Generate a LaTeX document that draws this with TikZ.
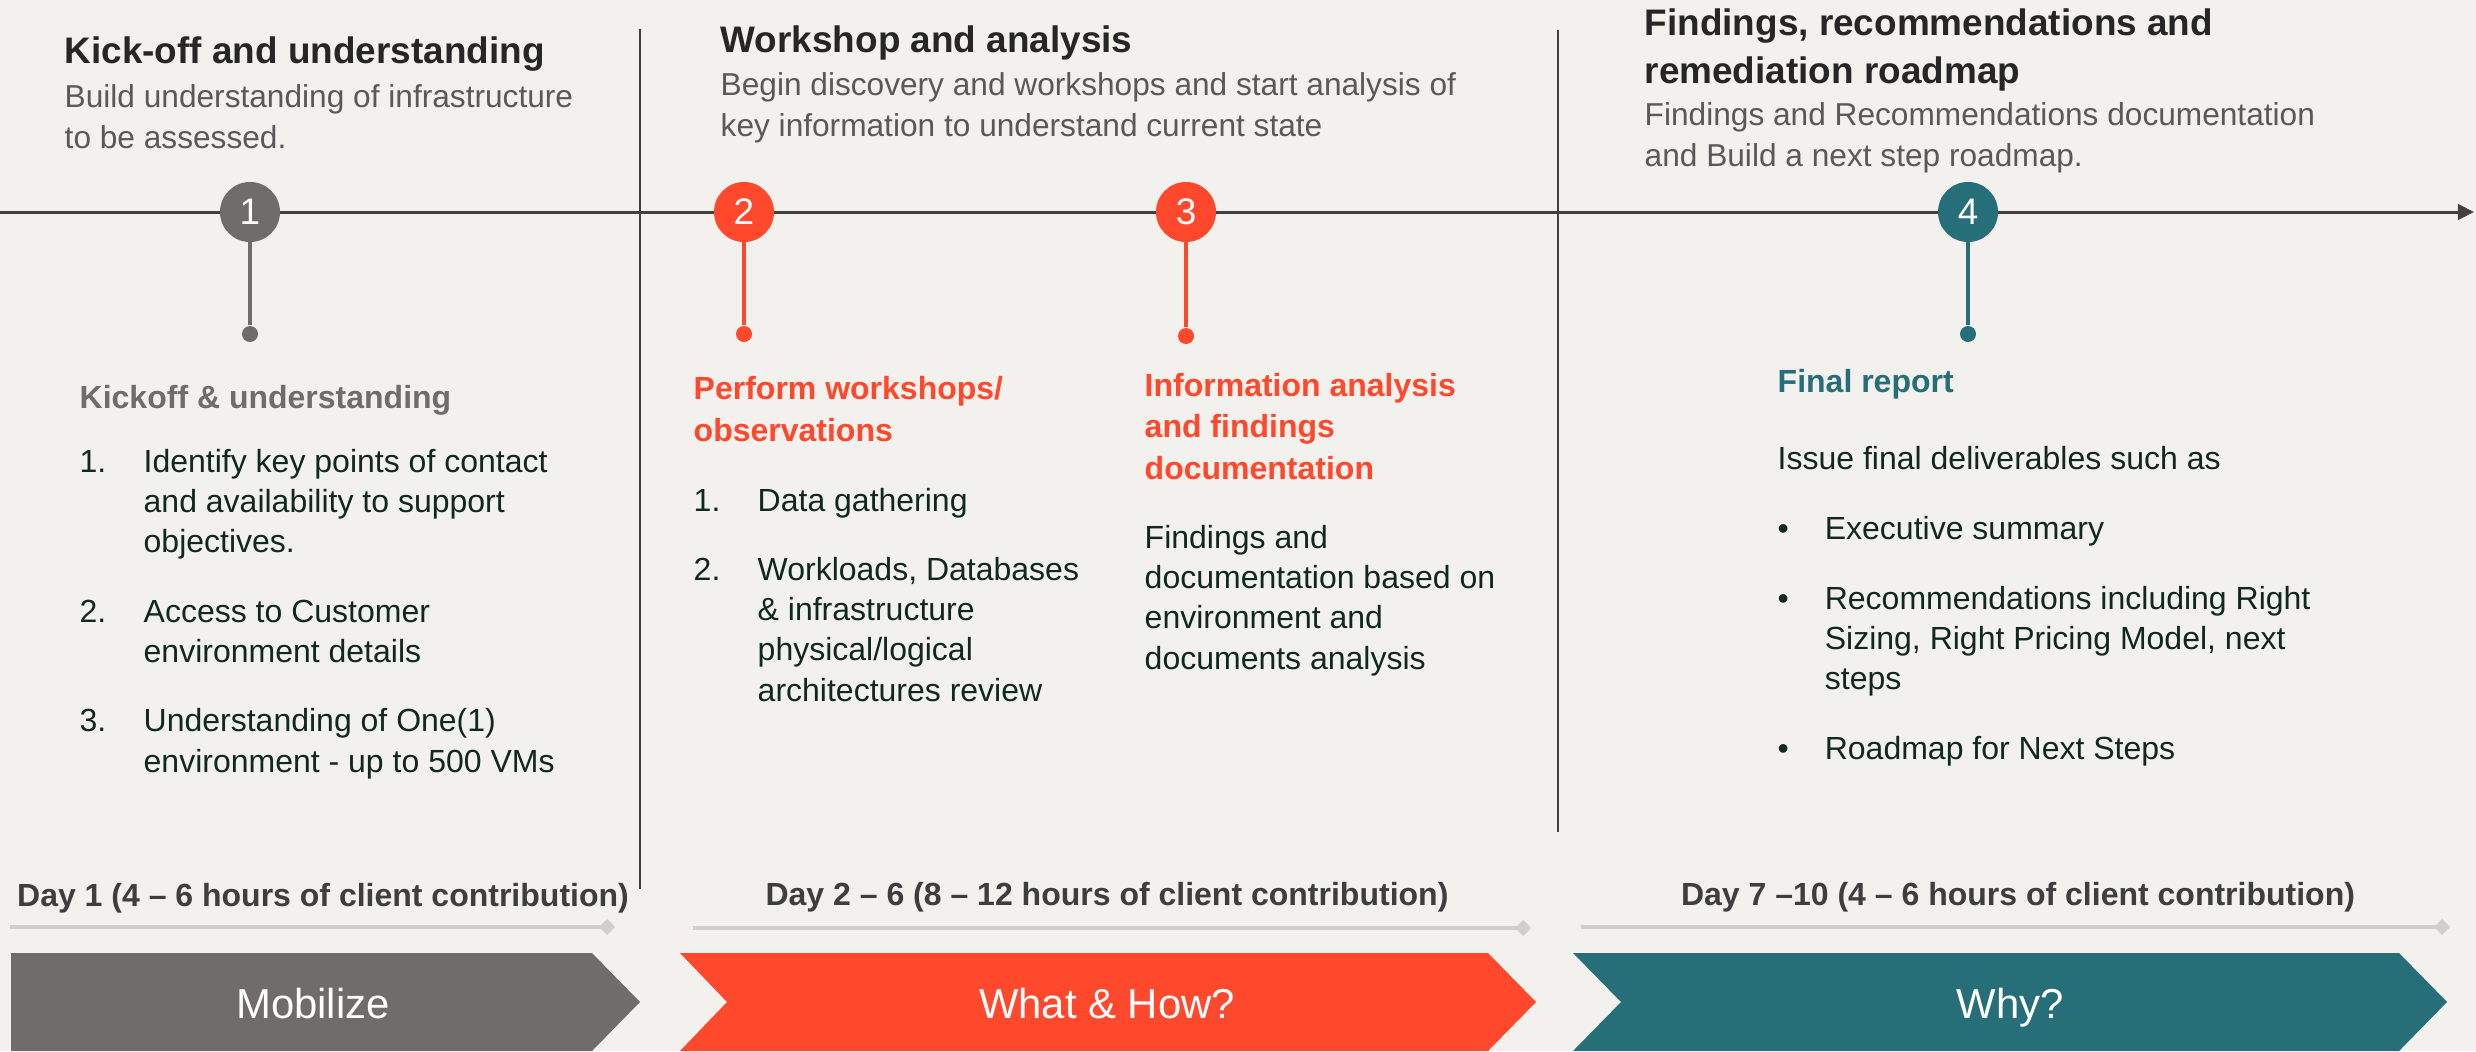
\documentclass[tikz,border=0pt]{standalone}
\usepackage{fontspec}
\setmainfont{Liberation Sans}
\usepackage{tikz}
\usetikzlibrary{arrows.meta, positioning}
\definecolor{bgcolor}{RGB}{242,241,238}
\definecolor{mobcolor}{RGB}{112,108,106}
\definecolor{howcolor}{RGB}{255,72,44}
\definecolor{whycolor}{RGB}{39,111,120}
\definecolor{linecolor}{RGB}{64,64,64}
\definecolor{titlecolor}{RGB}{38,38,38}
\definecolor{subcolor}{RGB}{89,89,89}
\definecolor{bodycolor}{RGB}{16,40,30}
\definecolor{daycolor}{RGB}{62,62,62}
\definecolor{trackcolor}{RGB}{208,206,206}

\newlength{\numind}
\setlength{\numind}{18.2pt}
\newlength{\bulind}
\setlength{\bulind}{13.4pt}
\newcommand{\numlbl}[1]{\makebox[\numind][l]{#1}}
\newcommand{\numskip}{\hspace*{\numind}}
\newcommand{\bullbl}{\makebox[\bulind][l]{\textbullet}}
\newcommand{\bulskip}{\hspace*{\bulind}}

\begin{document}
\begin{tikzpicture}[
    x=0.01cm, y=-0.01cm,
    title/.style={anchor=base west, inner sep=0pt, align=left, text=titlecolor, font=\fontsize{10.5}{13.4}\selectfont\bfseries},
    subtitle/.style={anchor=base west, inner sep=0pt, align=left, text=subcolor, font=\fontsize{9}{11.4}\selectfont},
    head/.style={anchor=base west, inner sep=0pt, align=left, font=\fontsize{9.1}{11.8}\selectfont\bfseries},
    body/.style={anchor=base west, inner sep=0pt, align=left, text=bodycolor, font=\fontsize{9.1}{11.4}\selectfont},
    milestone/.style={circle, fill=#1, minimum size=0.6cm, inner sep=0pt, text=white, font=\fontsize{10.5}{12}\selectfont},
    pin/.style={circle, fill=#1, minimum size=0.16cm, inner sep=0pt},
    stem/.style={draw=#1, line width=1pt},
    divider/.style={draw=linecolor, line width=0.65pt},
    track/.style={draw=trackcolor, line width=1.15pt, -{Diamond[length=4.5pt, width=4.6pt]}},
    day/.style={anchor=base, inner sep=0pt, text=daycolor, font=\fontsize{9.1}{11}\selectfont\bfseries},
    phase/.style={anchor=base, inner sep=0pt, text=white, font=\fontsize{11.9}{14}\selectfont}
]
    \fill[bgcolor] (0,0) rectangle (2476,1051);
    \useasboundingbox (0,0) rectangle (2476,1051);

    % timeline and dividers
    \coordinate (tl0) at (0,212);
    \coordinate (tl1) at (2474,212);
    \draw[linecolor, line width=0.85pt, -{Triangle[length=4.6pt, width=4.4pt]}] (tl0) -- (tl1);
    \coordinate (dv1a) at (640,29);
    \coordinate (dv1b) at (640,889);
    \coordinate (dv2a) at (1558,30);
    \coordinate (dv2b) at (1558,832);
    \draw[divider] (dv1a) -- (dv1b);
    \draw[divider] (dv2a) -- (dv2b);

    % section titles (multi-line nodes sit on their last line)
    \node[title] (t1) at (64,63) {Kick-off and understanding};
    \node[subtitle] (s1) at (64,148) {Build understanding of infrastructure\\to be assessed.};
    \node[title] (t2) at (720,52) {Workshop and analysis};
    \node[subtitle] (s2) at (720,136) {Begin discovery and workshops and start analysis of\\key information to understand current state};
    \node[title] (t3) at (1644,83) {Findings, recommendations and\\remediation roadmap};
    \node[subtitle] (s3) at (1644,166) {Findings and Recommendations documentation\\and Build a next step roadmap.};

    % milestones
    \node[pin=mobcolor] (d1) at (250,334) {};
    \node[pin=howcolor] (d2) at (744,334) {};
    \node[pin=howcolor] (d3) at (1186,336) {};
    \node[pin=whycolor] (d4) at (1968,334) {};
    \draw[stem=mobcolor] (250,212) -- (d1);
    \draw[stem=howcolor] (744,212) -- (d2);
    \draw[stem=howcolor] (1186,212) -- (d3);
    \draw[stem=whycolor] (1968,212) -- (d4);
    \node[milestone=mobcolor] (m1) at (250,212) {1};
    \node[milestone=howcolor] (m2) at (744,212) {2};
    \node[milestone=howcolor] (m3) at (1186,212) {3};
    \node[milestone=whycolor] (m4) at (1968,212) {4};

    % activities
    \node[head, text=mobcolor] (h1) at (79,408) {Kickoff \& understanding};
    \node[body] (b1) at (79,772) {\numlbl{1.}Identify key points of contact\\\numskip and availability to support\\\numskip objectives.\\[8.4pt]\numlbl{2.}Access to Customer\\\numskip environment details\\[8.4pt]\numlbl{3.}Understanding of One(1)\\\numskip environment - up to 500 VMs};
    \node[head, text=howcolor] (h2) at (693,441) {Perform workshops/\\observations};
    \node[body] (b2) at (693,701) {\numlbl{1.}Data gathering\\[8.4pt]\numlbl{2.}Workloads, Databases\\\numskip\& infrastructure\\\numskip physical/logical\\\numskip architectures review};
    \node[head, text=howcolor] (h3) at (1144,479) {Information analysis\\and findings\\documentation};
    \node[body] (b3) at (1144,669) {Findings and\\documentation based on\\environment and\\documents analysis};
    \node[head, text=whycolor] (h4) at (1777,392) {Final report};
    \node[body] (b4) at (1777,759) {Issue final deliverables such as\\[8.4pt]\bullbl Executive summary\\[8.4pt]\bullbl Recommendations including Right\\\bulskip Sizing, Right Pricing Model, next\\\bulskip steps\\[8.4pt]\bullbl Roadmap for Next Steps};

    % durations
    \node[day] (y1) at (323,906) {Day 1 (4 -- 6 hours of client contribution)};
    \node[day] (y2) at (1107,905) {Day 2 -- 6 (8 -- 12 hours of client contribution)};
    \node[day] (y3) at (2018,905) {Day 7 --10 (4 -- 6 hours of client contribution)};
    \coordinate (k1a) at (10,927);
    \coordinate (k1b) at (615,927);
    \coordinate (k2a) at (693,928);
    \coordinate (k2b) at (1531,928);
    \coordinate (k3a) at (1581,927);
    \coordinate (k3b) at (2450,927);
    \draw[track] (k1a) -- (k1b);
    \draw[track] (k2a) -- (k2b);
    \draw[track] (k3a) -- (k3b);

    % phases
    \fill[mobcolor] (11,953) -- (592,953) -- (640,1002) -- (592,1051) -- (11,1051) -- cycle;
    \fill[howcolor] (680,953) -- (1488,953) -- (1536,1002) -- (1488,1051) -- (680,1051) -- (727,1002) -- cycle;
    \fill[whycolor] (1573,953) -- (2399,953) -- (2447,1002) -- (2399,1051) -- (1573,1051) -- (1621,1002) -- cycle;
    \node[phase] (p1) at (313,1018) {Mobilize};
    \node[phase] (p2) at (1107,1018) {What \& How?};
    \node[phase] (p3) at (2010,1018) {Why?};
\end{tikzpicture}
\end{document}
